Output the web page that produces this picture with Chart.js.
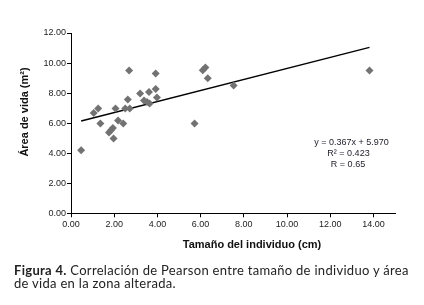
<!DOCTYPE html>
<html>
<head>
<meta charset="utf-8">
<script src="https://cdn.jsdelivr.net/npm/chart.js@4.4.1/dist/chart.umd.min.js"></script>
<style>
  html, body { margin: 0; padding: 0; background: #fff; }
  #wrap { position: relative; width: 424px; height: 305px; overflow: hidden; }
  #c { position: absolute; left: 0; top: 0; }
  #caption { position: absolute; left: 14px; top: 263.5px; width: 410px; white-space: nowrap;
    font-family: Lato, "Open Sans", sans-serif; font-size: 13px; letter-spacing: 0.3px; line-height: 13.7px; color: #222; }
  #caption b { font-weight: bold; }
</style>
</head>
<body>
<div id="wrap">
  <canvas id="c" width="424" height="305"></canvas>
  <div id="caption"><b>Figura 4.</b> Correlación de Pearson entre tamaño de individuo y área<br>de vida en la zona alterada.</div>
</div>
<script>
// Tamaño del individuo (cm)
const sizes = [0.47, 1.05, 1.26, 1.36, 1.76, 1.85, 1.94, 1.97, 2.06, 2.18, 2.42, 2.51, 2.63, 2.69, 2.72,
               3.20, 3.38, 3.52, 3.61, 3.64, 3.92, 3.92, 3.98, 5.72, 6.10, 6.22, 6.33, 7.53, 13.82];
// Área de vida (m²)
const areas = [4.19, 6.68, 6.98, 5.98, 5.38, 5.53, 5.67, 4.98, 6.98, 6.18, 5.98, 6.98, 7.57, 9.50, 6.98,
               7.97, 7.50, 7.40, 8.08, 7.30, 8.28, 9.30, 7.70, 5.98, 9.52, 9.70, 8.99, 8.50, 9.50];
// Trend line end points
const trendX = [0.47, 13.82];
const trendY = [6.14, 11.04];
const eqLines = ["y = 0.367x + 5.970", "R² = 0.423", "R = 0.65"];
const xTitle = "Tamaño del individuo (cm)";
const yTitle = "Área de vida (m²)";

const titlesPlugin = {
  id: 'titles',
  afterDraw(chart) {
    const ctx = chart.ctx;
    ctx.save();
    ctx.fillStyle = '#111';
    ctx.font = 'bold 11px "Liberation Sans", Arial, sans-serif';
    ctx.textAlign = 'center';
    ctx.textBaseline = 'middle';
    ctx.fillText(xTitle, 252, 244.5);
    ctx.save();
    ctx.translate(25, 112);
    ctx.rotate(-Math.PI / 2);
    ctx.fillText(yTitle, 0, 0);
    ctx.restore();
    ctx.font = '9px "Liberation Sans", Arial, sans-serif';
    ctx.fillStyle = '#1c1c28';
    ctx.fillText(eqLines[0], 351.5, 142.5);
    ctx.fillText(eqLines[1], 348.5, 154);
    ctx.fillText(eqLines[2], 348, 165);
    ctx.restore();
  }
};

new Chart(document.getElementById('c'), {
  type: 'scatter',
  data: {
    datasets: [
      {
        data: sizes.map((x, i) => ({ x, y: areas[i] })),
        pointStyle: 'rectRot',
        pointRadius: 4,
        backgroundColor: '#727272',
        borderColor: '#727272',
        borderWidth: 0
      },
      {
        type: 'line',
        data: trendX.map((x, i) => ({ x, y: trendY[i] })),
        borderColor: '#000',
        borderWidth: 1.4,
        pointRadius: 0,
        fill: false
      }
    ]
  },
  options: {
    responsive: false,
    animation: false,
    devicePixelRatio: 1,
    layout: { padding: { top: 33, right: 29, left: 0, bottom: 0 } },
    plugins: { legend: { display: false }, tooltip: { enabled: false } },
    scales: {
      x: {
        type: 'linear',
        min: 0, max: 15,
        afterFit(s) { s.height = 305 - 213.3 - 0; },
        ticks: { stepSize: 2, includeBounds: false, padding: 2, color: '#222',
          font: { family: '"Liberation Sans", Arial, sans-serif', size: 9 },
          callback: v => v.toFixed(2), maxRotation: 0 },
        grid: { drawOnChartArea: false, drawTicks: true, tickLength: 4, color: '#000' },
        border: { color: '#000', width: 1 }
      },
      y: {
        min: 0, max: 12,
        afterFit(s) { s.width = 71; },
        ticks: { stepSize: 2, padding: 1, color: '#222',
          font: { family: '"Liberation Sans", Arial, sans-serif', size: 9 },
          callback: v => v.toFixed(2) },
        grid: { drawOnChartArea: false, drawTicks: true, tickLength: 4, color: '#000' },
        border: { color: '#000', width: 1 }
      }
    }
  },
  plugins: [titlesPlugin]
});
</script>
</body>
</html>
